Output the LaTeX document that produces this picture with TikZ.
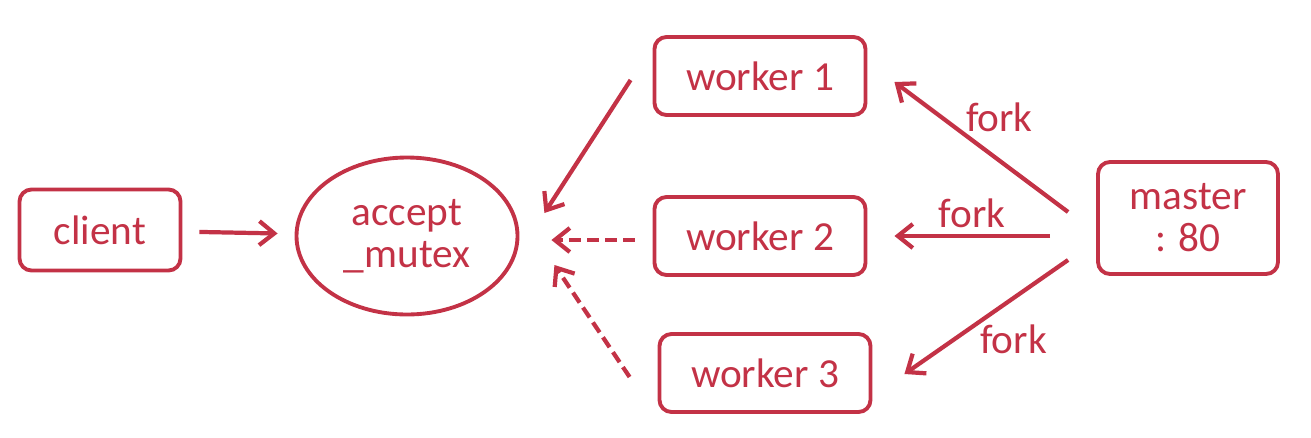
\documentclass[tikz,border=0pt]{standalone}
\usepackage{fontspec}
\setmainfont{Carlito}
\usetikzlibrary{arrows.meta, positioning, shapes}
\definecolor{forkred}{RGB}{195,50,70}

\begin{document}
\begin{tikzpicture}[>={Straight Barb[length=3mm,width=4.8mm]}, node distance=7.06cm, on grid,
        every node/.style={text=forkred, font=\fontsize{23.5}{24}\selectfont},
        proc/.style={draw=forkred, line width=2.2pt, rounded corners=0.24cm, minimum width=4.22cm, minimum height=1.56cm},
        lock/.style={draw=forkred, line width=2.2pt, ellipse, minimum width=4.42cm, minimum height=3.14cm, align=center},
        link/.style={color=forkred, line width=2.4pt},
        wait/.style={link, dash pattern=on 6.8pt off 3.4pt}]
        \useasboundingbox (0,0) rectangle (26.22,-8.74);
        \node[proc, minimum width=3.22cm, minimum height=1.62cm] (client) at (2.0,-4.6) {client};
        \node[lock] (mutex) [below right=0.12cm and 6.14cm of client] {accept\\\_mutex};
        \node[proc] (w2) [right=of mutex] {worker 2};
        \node[proc] (w1) [above=3.2cm of w2] {worker 1};
        \node[proc] (w3) [below right=2.74cm and 0.1cm of w2] {worker 3};
        \node[proc, align=center, minimum width=3.6cm, minimum height=2.24cm] (master) [above right=0.36cm and 8.56cm of w2] {master\\: 80};
        \path[->, link]
        (client) edge [shorten <=0.34cm, shorten >=0.34cm] (mutex)
        ([xshift=-0.44cm,yshift=-0.08cm]w1.west) edge ([xshift=0.5cm,yshift=0.46cm]mutex.east)
        ([xshift=-0.56cm,yshift=0.12cm]master.west) edge node [pos=0.6, above right, inner sep=0pt] {fork} ([xshift=0.54cm,yshift=-0.12cm]w1.east)
        ([xshift=-0.92cm,yshift=-0.36cm]master.west) edge node [above] {fork} ([xshift=0.54cm]w2.east)
        ([xshift=-0.56cm,yshift=-0.84cm]master.west) edge node [pos=0.55, below right, inner sep=0pt] {fork} ([xshift=0.64cm,yshift=-0.02cm]w3.east)
        ;
        \path[->, wait]
        ([xshift=-0.36cm,yshift=-0.08cm]w2.west) edge ([xshift=0.64cm,yshift=-0.08cm]mutex.east)
        ([xshift=-0.56cm,yshift=-0.08cm]w3.west) edge ([xshift=0.7cm,yshift=-0.58cm]mutex.east)
        ;
    \end{tikzpicture}
\end{document}
